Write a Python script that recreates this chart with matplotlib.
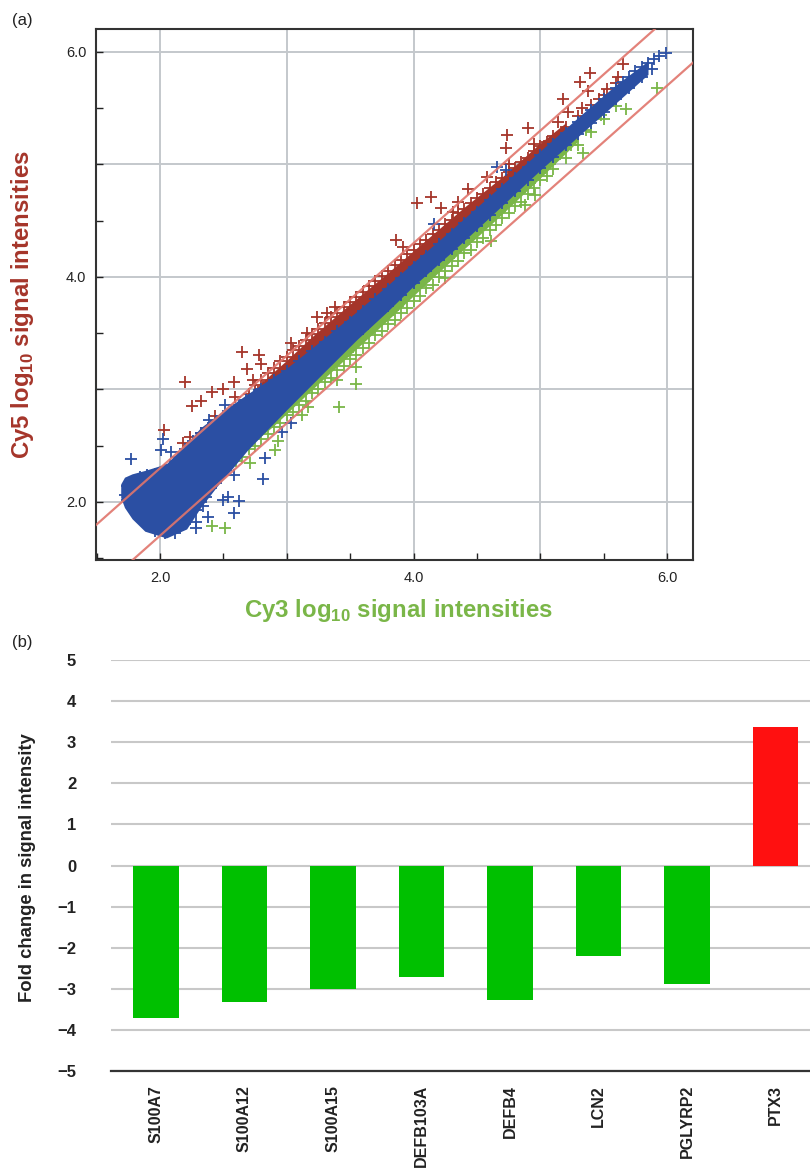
import matplotlib
matplotlib.use("Agg")
import matplotlib.pyplot as plt
from matplotlib import font_manager as fm

plt.rcParams['font.family'] = ['Liberation Sans', 'DejaVu Sans']
plt.rcParams['mathtext.fontset'] = 'custom'
plt.rcParams['mathtext.bf'] = 'Liberation Sans:bold'
plt.rcParams['mathtext.rm'] = 'Liberation Sans'
HAS_NARROW = 'Liberation Sans Narrow' in {f.name for f in fm.fontManager.ttflist}
NARROW = 'Liberation Sans Narrow' if HAS_NARROW else 'Liberation Sans'

# ---------- panel (a): values ----------
core_x = [1.69,1.72,1.78,1.88,2.05,2.21,2.32,2.45,2.55,2.69,3.00,3.30,3.55,3.80,4.00,4.30,4.60,5.00,5.30,5.60,5.85]
core_low = [2.04,1.95,1.85,1.74,1.68,1.76,1.95,2.14,2.27,2.46,2.82,3.16,3.44,3.70,3.92,4.22,4.53,4.95,5.25,5.55,5.80]
core_up = [2.16,2.22,2.25,2.28,2.34,2.52,2.66,2.77,2.85,2.96,3.19,3.46,3.69,3.93,4.13,4.42,4.72,5.12,5.42,5.71,5.92]

red_core_x = [2.80,3.00,3.20,3.50,3.80,4.10,4.40,4.70,5.00,5.20]
red_core_low = [2.90,3.10,3.30,3.60,3.88,4.18,4.48,4.76,5.06,5.26]
red_core_up = [3.06,3.26,3.47,3.76,4.04,4.33,4.62,4.89,5.19,5.37]

green_core_x = [2.60,2.90,3.20,3.50,3.80,4.10,4.40,4.70,5.00,5.30]
green_core_low = [2.40,2.68,3.00,3.31,3.62,3.94,4.25,4.56,4.88,5.21]
green_core_up = [2.55,2.85,3.15,3.48,3.78,4.08,4.38,4.69,4.99,5.30]

red_x = [2.20,2.25,2.32,2.41,2.50,2.58,2.65,2.78,2.80,2.69,2.59,2.03,2.18,2.24,2.32,2.43,2.51,2.73,2.81,3.03,3.24,3.38,3.32,3.16,
         4.03,4.14,4.22,3.86,3.92,4.74,4.73,4.90,5.18,5.31,5.39,5.38,5.65,5.61,5.22,5.33,5.14,5.53,5.46,4.95,5.03,4.43,4.35,4.31,4.58,4.75,
         2.70,2.75,2.80,2.85,2.90,2.95,3.00,3.05,3.10,3.15,3.20,3.25,3.30,3.35,3.40,3.45,3.50,3.55,3.60,3.65,3.70,3.75,3.80,3.85,3.90,3.95,
         4.00,4.05,4.10,4.15,4.20,4.25,4.30,4.35,4.40,4.45,4.50,4.55,4.60,4.65,4.70,4.75,4.80,4.85,4.90,4.95,5.00,5.05,5.10,5.20,5.30,5.40,5.50,5.60]
red_y = [3.07,2.85,2.90,2.98,3.00,3.07,3.33,3.31,3.23,3.18,2.93,2.64,2.52,2.58,2.61,2.76,2.76,3.08,3.02,3.41,3.64,3.73,3.68,3.50,
         4.66,4.71,4.61,4.33,4.27,5.26,5.15,5.32,5.58,5.73,5.81,5.65,5.89,5.78,5.47,5.50,5.38,5.67,5.58,5.18,5.16,4.78,4.67,4.58,4.89,5.00,
         2.96,3.04,3.08,3.15,3.19,3.25,3.29,3.35,3.39,3.44,3.49,3.54,3.59,3.64,3.68,3.73,3.78,3.82,3.87,3.92,3.96,4.01,4.05,4.11,4.15,4.20,
         4.24,4.29,4.33,4.38,4.42,4.47,4.51,4.57,4.60,4.66,4.70,4.74,4.79,4.84,4.88,4.93,4.97,5.02,5.06,5.12,5.16,5.20,5.25,5.33,5.43,5.53,5.62,5.72]

green_x = [2.41,2.51,3.41,3.55,2.91,2.93,2.71,3.12,3.17,3.40,3.55,5.92,5.68,5.34,4.88,4.96,4.61,4.25,
           2.60,2.65,2.70,2.75,2.80,2.85,2.90,2.95,3.00,3.05,3.10,3.15,3.20,3.25,3.30,3.35,3.40,3.45,3.50,3.55,3.60,3.65,3.70,3.75,3.80,3.85,3.90,3.95,
           4.00,4.05,4.10,4.15,4.20,4.25,4.30,4.35,4.40,4.45,4.50,4.55,4.60,4.65,4.70,4.75,4.80,4.85,4.90,4.95,5.00,5.05,5.10,5.20,5.30,5.40,5.50,5.60,
           2.72,2.80,2.88,2.96,3.04,3.12,3.20,3.28,3.36,3.44,3.52,3.60,3.68,3.76,3.84,3.92,4.00,4.08,4.16,4.24,4.32,4.40,4.48,4.56,4.64,4.72,4.80,4.88,4.96,5.04,5.12,5.24,5.36,5.48]
green_y = [1.79,1.77,2.84,3.05,2.46,2.54,2.35,2.77,2.84,3.08,3.20,5.68,5.49,5.10,4.64,4.73,4.32,3.99,
           2.36,2.40,2.47,2.50,2.56,2.60,2.67,2.70,2.77,2.80,2.86,2.90,2.97,3.00,3.07,3.10,3.17,3.21,3.27,3.31,3.37,3.41,3.48,3.52,3.58,3.62,3.68,3.72,
           3.79,3.83,3.90,3.93,4.00,4.05,4.10,4.14,4.21,4.24,4.31,4.35,4.42,4.46,4.52,4.57,4.63,4.67,4.74,4.79,4.86,4.90,4.96,5.06,5.17,5.29,5.40,5.52,
           2.56,2.64,2.73,2.81,2.89,2.98,3.05,3.14,3.22,3.30,3.38,3.46,3.55,3.63,3.71,3.79,3.88,3.96,4.04,4.13,4.21,4.29,4.38,4.46,4.55,4.63,4.72,4.80,4.88,4.97,5.05,5.17,5.31,5.44]

blue_x = [5.99,4.16,4.66,4.73,1.77,2.02,2.01,2.09,2.51,2.39,2.81,2.83,2.96,3.03,2.50,2.54,2.62,2.58,2.38,2.28,2.28,2.34,2.58,
          1.72,1.74,1.78,1.84,1.90,1.96,2.02,2.08,2.14,2.20,2.26,2.32,2.38,2.44,2.50,2.56,2.62,2.68,2.74,2.80,2.90,3.00,3.10,3.20,3.30,3.40,3.50,3.60,3.70,3.80,3.90,
          4.00,4.10,4.20,4.30,4.40,4.50,4.60,4.70,4.80,4.90,5.00,5.10,5.20,5.30,5.40,5.50,5.60,5.65,5.70,5.75,5.80,5.85,5.90,5.94,
          1.74,1.80,1.88,1.96,2.04,2.12,2.20,2.28,2.36,2.44,2.52,2.60,2.70,2.80,2.90,3.00,3.10,3.20,3.30,3.40,3.50,3.60,3.70,3.80,3.90,
          4.00,4.10,4.20,4.30,4.40,4.50,4.60,4.70,4.80,4.90,5.00,5.10,5.20,5.30,5.40,5.50,5.60,5.70,5.80,5.88]
blue_y = [5.99,4.47,4.98,4.95,2.38,2.56,2.46,2.44,2.86,2.73,2.20,2.39,2.62,2.70,2.02,2.04,2.01,1.90,1.87,1.82,1.77,1.96,2.24,
          2.06,2.14,2.18,2.22,2.24,2.25,2.27,2.33,2.40,2.47,2.54,2.61,2.66,2.72,2.76,2.82,2.86,2.91,2.95,3.00,3.08,3.16,3.25,3.34,3.42,3.52,3.60,3.70,3.80,3.89,3.99,
          4.09,4.19,4.29,4.38,4.48,4.58,4.68,4.78,4.88,4.98,5.08,5.18,5.28,5.38,5.48,5.58,5.68,5.73,5.78,5.83,5.87,5.90,5.94,5.96,
          2.02,1.92,1.80,1.74,1.72,1.72,1.80,1.93,2.04,2.17,2.28,2.42,2.53,2.66,2.78,2.89,3.00,3.12,3.22,3.33,3.44,3.54,3.64,3.74,3.84,
          3.95,4.05,4.15,4.25,4.35,4.45,4.55,4.66,4.76,4.86,4.97,5.07,5.17,5.27,5.37,5.47,5.58,5.68,5.78,5.85]

line_x = [1.4,6.3]
upper_y = [1.7,6.6]
lower_y = [1.1,6.0]

# ---------- panel (b) ----------
genes = ['S100A7','S100A12','S100A15','DEFB103A','DEFB4','LCN2','PGLYRP2','PTX3']
fold = [-3.70,-3.33,-3.00,-2.72,-3.27,-2.20,-2.88,3.38]
bar_colors = ['#00c000']*7 + ['#ff1010']

W, H = 810, 1171
fig = plt.figure(figsize=(W/100, H/100), dpi=100)
def box(l, t, r, b):
    return [l/W, 1-b/H, (r-l)/W, (b-t)/H]

RED, GREEN, BLUE, LINE = '#a5352a', '#7ab648', '#2b4fa3', '#e0756c'
ax = fig.add_axes(box(96, 29, 693, 560))
ax.set_xlim(1.495, 6.205)
ax.set_ylim(1.484, 6.204)
ax.set_xticks([2,3,4,5,6])
ax.set_yticks([2,3,4,5,6])
ax.set_xticklabels(['2.0','','4.0','','6.0'])
ax.set_yticklabels(['2.0','','4.0','','6.0'])
ax.set_xticks([1.5,2.5,3.5,4.5,5.5], minor=True)
ax.set_yticks([1.5,2.5,3.5,4.5,5.5], minor=True)
ax.grid(True, which='major', color='#c4c8cc', lw=1.4, zorder=0)
ax.set_axisbelow(True)
ax.tick_params(axis='both', which='both', direction='in', length=5, width=1, color='#222222', labelsize=10.5, labelcolor='#222222')
ax.tick_params(axis='x', pad=8)
ax.tick_params(axis='y', pad=7)
for s in ax.spines.values():
    s.set_color('#333333'); s.set_linewidth(1.5)

mk = dict(marker='+', s=70, linewidths=1.3)
ax.scatter(red_x, red_y, color=RED, zorder=2, **mk)
ax.fill_between(red_core_x, red_core_low, red_core_up, color=RED, lw=0, zorder=2.1)
ax.scatter(green_x, green_y, color=GREEN, zorder=2.2, **mk)
ax.fill_between(green_core_x, green_core_low, green_core_up, color=GREEN, lw=0, zorder=2.2)
ax.fill_between(core_x, core_low, core_up, color=BLUE, lw=0, zorder=3)
ax.scatter(blue_x, blue_y, color=BLUE, zorder=3, **mk)
ax.plot(line_x, upper_y, color=LINE, lw=1.6, alpha=.9, zorder=4)
ax.plot(line_x, lower_y, color=LINE, lw=1.6, alpha=.9, zorder=4)

fig.text(12/W, 1-21/H, '(a)', fontsize=12, color='#222222', va='center')
fig.text(12/W, 1-643/H, '(b)', fontsize=12, color='#222222', va='center')
fig.text(23/W, 1-305/H, r'Cy5 log$_{\mathbf{10}}$ signal intensities', rotation=90, color=RED,
         fontsize=17.3, fontweight='bold', ha='center', va='center')
fig.text(398/W, 1-611/H, r'Cy3 log$_{\mathbf{10}}$ signal intensities', color=GREEN,
         fontsize=17.3, fontweight='bold', ha='center', va='center')

bx = fig.add_axes(box(111, 660, 810, 1071))
bx.set_xlim(-0.508, 7.39)
bx.set_ylim(-5, 5)
bx.bar(range(len(genes)), fold, width=0.51, color=bar_colors, zorder=3)
bx.set_yticks(range(-5, 6))
bx.set_yticklabels(['\u2212'+str(abs(v)) if v < 0 else str(v) for v in range(-5, 6)],
                   family=NARROW, fontweight='bold', fontsize=13 if HAS_NARROW else 12, color='#222222')
bx.set_xticks(range(len(genes)))
bx.set_xticklabels(genes, rotation=90, family=NARROW, fontweight='bold', fontsize=14 if HAS_NARROW else 11.5,
                   color='#222222', va='top', ha='center')
bx.tick_params(axis='both', length=0)
bx.tick_params(axis='y', pad=25)
bx.tick_params(axis='x', pad=10)
bx.grid(True, axis='y', color='#c8c8c8', lw=1.5, zorder=0)
bx.set_axisbelow(True)
for k in ['top','left','right']:
    bx.spines[k].set_visible(False)
bx.spines['bottom'].set_color('#333333')
bx.spines['bottom'].set_linewidth(1.6)
fig.text(28/W, 1-868/H, 'Fold change in signal intensity', rotation=90, family=NARROW, fontsize=13.3, fontweight='bold',
         color='#222222', ha='center', va='center')

fig.savefig('out.png', dpi=100)
